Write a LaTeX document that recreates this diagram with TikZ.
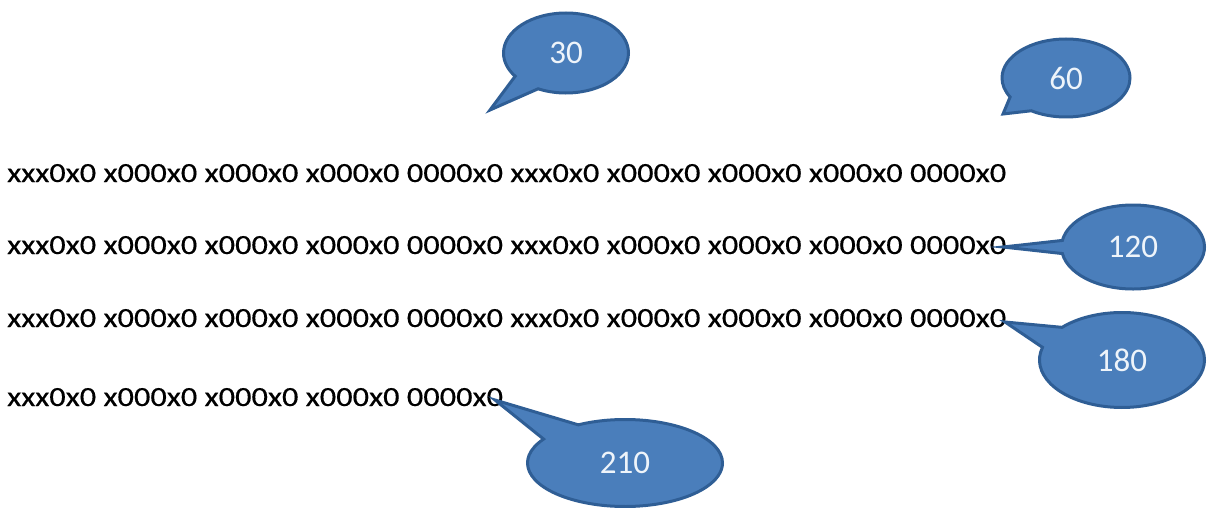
\documentclass[tikz,border=0pt]{standalone}
\usepackage{fontspec}
\setmainfont{Carlito}
\newfontfamily\linefont{Carlito}[FakeStretch=1.17,FakeBold=0.4]
\usetikzlibrary{shapes.callouts}
\definecolor{bubblefill}{HTML}{4A7EBB}
\definecolor{bubbleedge}{HTML}{2F5E95}
\definecolor{bubbletext}{HTML}{EEF4FA}

\begin{document}
\begin{tikzpicture}[x=1pt,y=-1pt,
  ln/.style={anchor=base west,inner sep=0pt,font=\linefont\fontsize{27.7}{33}\selectfont},
  bub/.style={ellipse callout,draw=bubbleedge,line width=3pt,fill=bubblefill,text=bubbletext,
    font=\fontsize{33}{40}\selectfont,inner sep=0pt,callout pointer arc=28}]
  \useasboundingbox (0,0) rectangle (1207,508);
  % text lines
  \node[ln] (l1) at (7,182) {xxx0x0 x000x0 x000x0 x000x0 0000x0 xxx0x0 x000x0 x000x0 x000x0 0000x0};
  \node[ln] (l2) at (7,254) {xxx0x0 x000x0 x000x0 x000x0 0000x0 xxx0x0 x000x0 x000x0 x000x0 0000x0};
  \node[ln] (l3) at (7,327) {xxx0x0 x000x0 x000x0 x000x0 0000x0 xxx0x0 x000x0 x000x0 x000x0 0000x0};
  \node[ln] (l4) at (7,406) {xxx0x0 x000x0 x000x0 x000x0 0000x0};
  % pointer tips
  \coordinate (p30) at (490,110);\coordinate (p60) at (1003,114);
  \coordinate (p120) at (1003,247);\coordinate (p180) at (1005,322);\coordinate (p210) at (495,400);
  % callouts
  \node[bub,minimum width=125pt,minimum height=80pt,callout absolute pointer={(p30)}] (c30) at (566,53) {30};
  \node[bub,minimum width=128pt,minimum height=78pt,callout absolute pointer={(p60)}] (c60) at (1066,78) {60};
  \node[bub,minimum width=143pt,minimum height=84pt,callout absolute pointer={(p120)},callout pointer arc=18] (c120) at (1133,247) {120};
  \node[bub,minimum width=165pt,minimum height=95pt,callout absolute pointer={(p180)}] (c180) at (1122,360) {180};
  \node[bub,minimum width=195pt,minimum height=87pt,callout absolute pointer={(p210)}] (c210) at (625,463) {210};
\end{tikzpicture}
\end{document}
